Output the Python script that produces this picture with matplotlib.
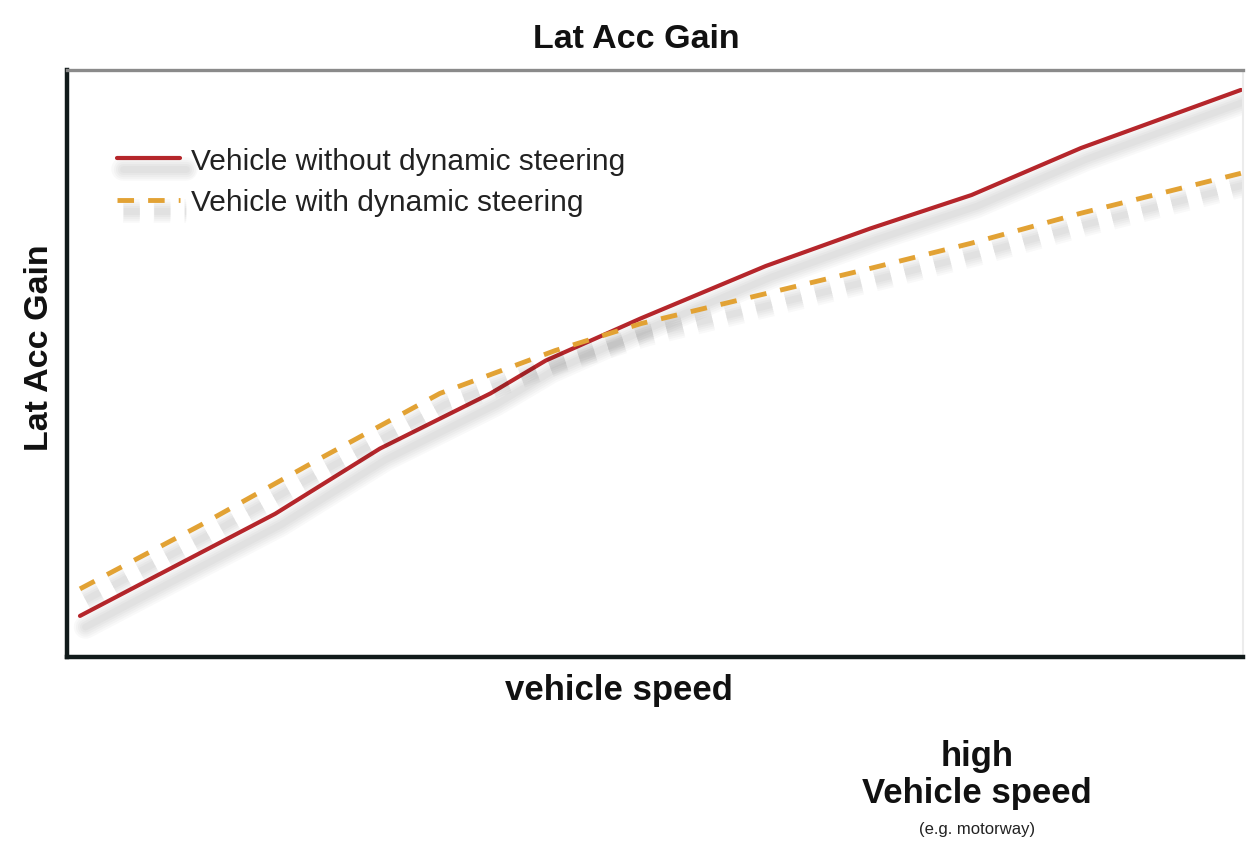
import matplotlib
matplotlib.use("Agg")
import matplotlib.pyplot as plt
import matplotlib.patheffects as pe

plt.rcParams['font.family'] = ['Liberation Sans', 'DejaVu Sans']

# Data (arbitrary units: x = vehicle speed, y = lat acc gain)
speed_without = [1.1, 7.1, 17.7, 26.6, 36.0, 40.7, 48.8, 59.4, 68.3, 76.9, 86.2, 99.8]
gain_without = [7.0, 13.3, 24.4, 35.5, 44.9, 50.5, 57.7, 66.6, 73.0, 78.7, 86.7, 96.6]
speed_with = [1.1, 11.3, 21.5, 31.7, 41.5, 48.8, 59.4, 68.3, 76.9, 86.2, 99.8]
gain_with = [11.6, 22.4, 33.8, 44.9, 52.2, 56.8, 61.9, 66.2, 70.5, 75.6, 82.4]

label_without = "Vehicle without dynamic steering"
label_with = "Vehicle with dynamic steering"

RED = "#b5262b"
ORANGE = "#e2a234"

fig = plt.figure(figsize=(12.46, 8.45), dpi=100)
ax = fig.add_axes([0.0538, 0.2213, 0.944, 0.6947])

shadow = [pe.SimpleLineShadow(offset=(4, -8), shadow_color="#000000", alpha=0.022, linewidth=w)
          for w in (17, 14, 11, 8, 5)] + [pe.Normal()]

ax.plot(speed_without, gain_without, color=RED, lw=3.0, solid_capstyle="round",
        label=label_without, path_effects=shadow)
ax.plot(speed_with, gain_with, color=ORANGE, lw=3.5, dashes=(3.4, 2.9),
        label=label_with, path_effects=shadow)

ax.set_xlim(0, 100)
ax.set_ylim(0, 100)
ax.set_xticks([])
ax.set_yticks([])

ax.spines['left'].set_color("#111a1a")
ax.spines['left'].set_linewidth(3.2)
ax.spines['bottom'].set_color("#111a1a")
ax.spines['bottom'].set_linewidth(3.2)
ax.spines['top'].set_color("#8a8a8a")
ax.spines['top'].set_linewidth(2.4)
ax.spines['right'].set_color("#ececec")
ax.spines['right'].set_linewidth(1.5)

leg = ax.legend(loc="upper left", bbox_to_anchor=(0.02, 0.915), frameon=False,
                fontsize=21.5, handlelength=2.1, handletextpad=0.35, labelspacing=0.45)
for t in leg.get_texts():
    t.set_color("#222222")

fig.text(0.511, 0.953, "Lat Acc Gain", ha="center", va="center", fontsize=24.5, fontweight="bold",
         color="#111111")
fig.text(0.032, 0.588, "Lat Acc Gain", ha="center", va="center", rotation=90,
         fontsize=24.5, fontweight="bold", color="#111111")
fig.text(0.497, 0.183, "vehicle speed", ha="center", va="center", fontsize=25,
         fontweight="bold", color="#111111")
fig.text(0.784, 0.083, "high\nVehicle speed", ha="center", va="center", fontsize=25,
         fontweight="bold", linespacing=1.15, color="#111111")
fig.text(0.784, 0.018, "(e.g. motorway)", ha="center", va="center", fontsize=12, color="#222222")

fig.savefig("out.png", dpi=100, facecolor="white")
